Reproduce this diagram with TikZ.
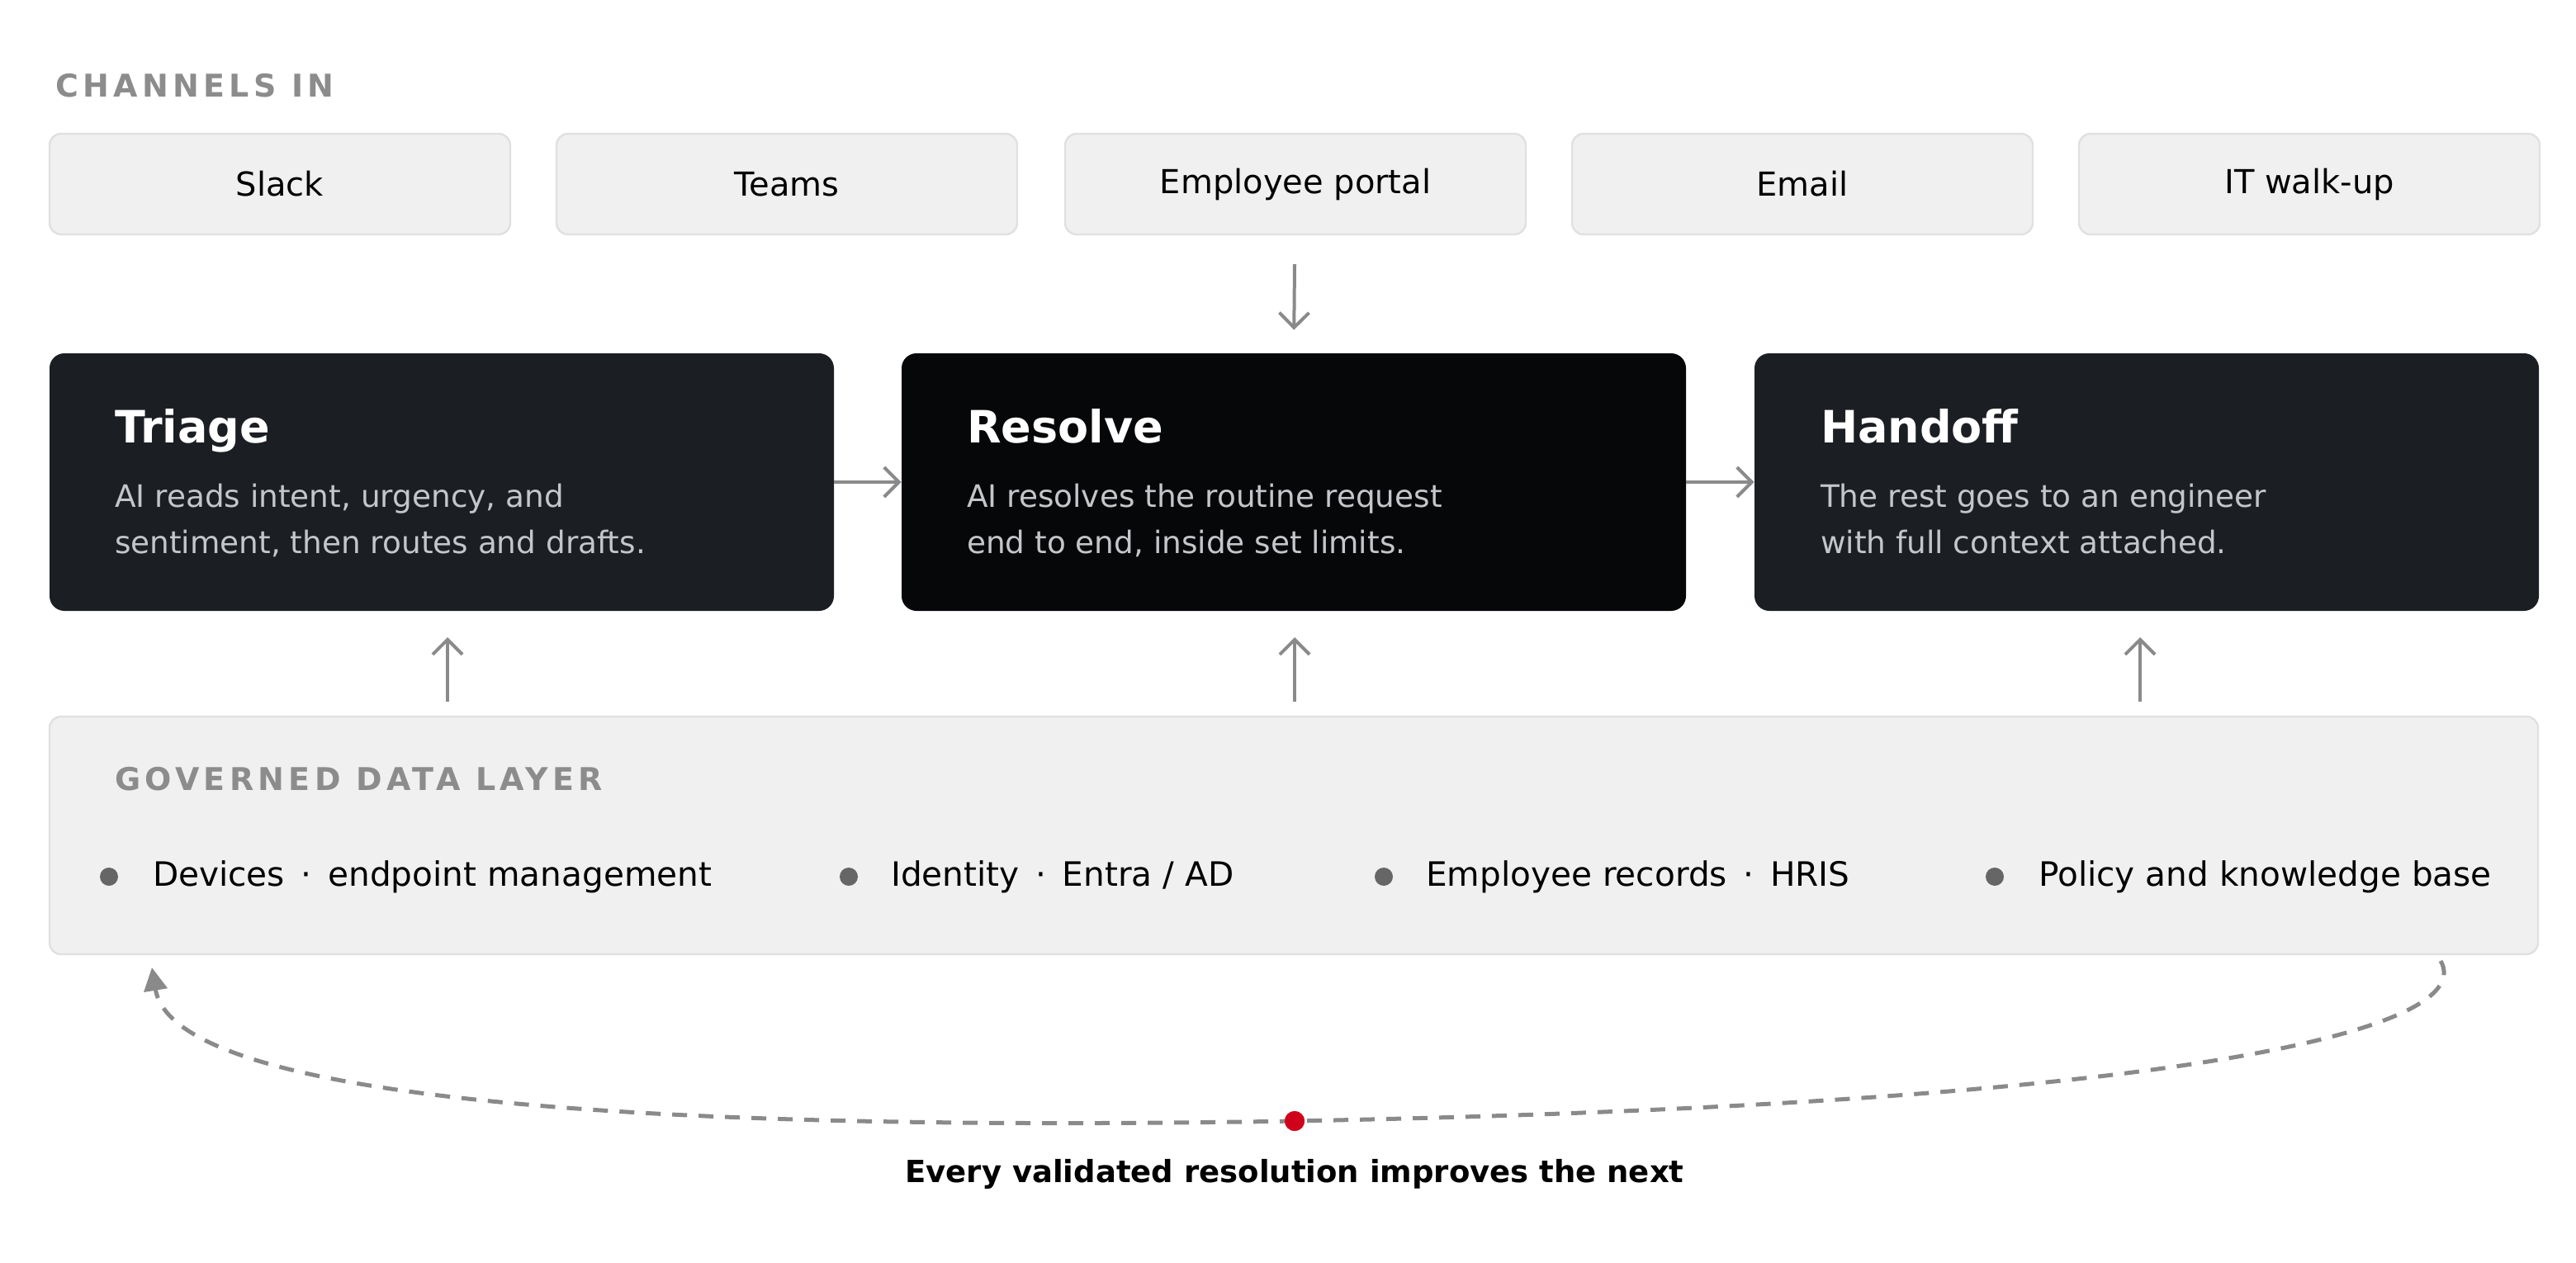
\documentclass[tikz,border=0pt]{standalone}
\usepackage{fontspec}
\setmainfont{DejaVu Sans}
\newfontfamily\capsfont{DejaVu Sans}[LetterSpace=14]
\usepackage{xcolor}
\usepackage{tikz}
\usetikzlibrary{arrows.meta}
\definecolor{chanfill}{HTML}{F0F0F0}
\definecolor{chanline}{HTML}{E0E0E0}
\definecolor{darkbox}{HTML}{1B1E23}
\definecolor{blackbox}{HTML}{050709}
\definecolor{subtext}{HTML}{C4C6C9}
\definecolor{arrowgray}{HTML}{8A8A8A}
\definecolor{capsgray}{HTML}{8C8C8C}
\definecolor{dotgray}{HTML}{666666}
\definecolor{loopred}{HTML}{D0021B}
\tikzset{
  chan/.style={draw=chanline, line width=1.2pt, fill=chanfill, rounded corners=7pt, minimum width=279pt, minimum height=61pt, font=\fontsize{20}{24}\selectfont},
  stage/.style={fill=darkbox, rounded corners=9pt, minimum width=475pt, minimum height=156pt},
  flow/.style={draw=arrowgray, line width=2pt, -{Straight Barb[length=9pt,width=18pt]}},
  head/.style={font=\capsfont\bfseries\fontsize{19}{22}\selectfont, text=capsgray, anchor=west},
  ttl/.style={font=\bfseries\fontsize{27}{30}\selectfont, text=white, anchor=base west},
  sub/.style={font=\fontsize{18.7}{28}\selectfont, text=subtext, anchor=base west, align=left},
  item/.style={font=\fontsize{20.3}{24}\selectfont, anchor=west},
  dot/.style={circle, fill=dotgray, inner sep=0pt, minimum size=11pt}
}
\begin{document}
\begin{tikzpicture}[x=1pt,y=-1pt]
            \useasboundingbox (0,0) rectangle (1560,765);
            % channels
            \node (chhead) at (30, 52) [head] {CHANNELS IN};
            \node (slack) at (169.5, 111.5) [chan] {Slack};
            \node (teams) at (476.5, 111.5) [chan] {Teams};
            \node (portal) at (784.5, 111.5) [chan] {Employee portal};
            \node (email) at (1091.5, 111.5) [chan] {Email};
            \node (walkup) at (1398.5, 111.5) [chan] {IT walk-up};
            \coordinate (intop) at (784, 160);
            % stages
            \node (triage) at (267.5, 292) [stage] {};
            \node (resolve) at (783.5, 292) [stage, fill=blackbox] {};
            \node (handoff) at (1300, 292) [stage] {};
            \node at (66, 268) [ttl] {Triage};
            \node at (66, 335) [sub] {AI reads intent, urgency, and\\sentiment, then routes and drafts.};
            \node at (582, 268) [ttl] {Resolve};
            \node at (582, 335) [sub] {AI resolves the routine request\\end to end, inside set limits.};
            \node at (1099, 268) [ttl] {Handoff};
            \node at (1099, 335) [sub] {The rest goes to an engineer\\with full context attached.};
            \draw [flow, shorten >=14pt] (intop) -- (resolve.north);
            \draw [flow] (triage.east) -- (resolve.west);
            \draw [flow] (resolve.east) -- (handoff.west);
            % data layer
            \node (layer) at (783.5, 506) [draw=chanline, line width=1.2pt, fill=chanfill, rounded corners=7pt, minimum width=1507pt, minimum height=144pt] {};
            \node (lyhead) at (66, 472) [head] {GOVERNED DATA LAYER};
            \draw [flow, shorten >=16pt] (271, 425) -- (271, 370);
            \draw [flow, shorten >=16pt] (784, 425) -- (784, 370);
            \draw [flow, shorten >=16pt] (1296, 425) -- (1296, 370);
            \node (d1) at (66, 531) [dot] {};
            \node at (89, 531) [item] {Devices \,·\, endpoint management};
            \node (d2) at (514, 531) [dot] {};
            \node at (536, 531) [item] {Identity \,·\, Entra / AD};
            \node (d3) at (838, 531) [dot] {};
            \node at (860, 531) [item] {Employee records \,·\, HRIS};
            \node (d4) at (1208, 531) [dot] {};
            \node at (1231, 531) [item] {Policy and knowledge base};
            % feedback loop
            \coordinate (loopstart) at (1478, 582);
            \coordinate (loopend) at (92, 586);
            \node (redpt) at (784, 679) [circle, fill=loopred, inner sep=0pt, minimum size=12pt] {};
            \draw [draw=arrowgray, line width=2.5pt, dash pattern=on 9pt off 7pt] (loopstart) .. controls (1500, 620) and (1350, 668) .. (redpt.center);
            \draw [draw=arrowgray, line width=2.5pt, dash pattern=on 9pt off 7pt, -{Triangle[length=14pt,width=14pt]}] (redpt.center) .. controls (380, 686) and (105, 665) .. (loopend);
            \node (redpt2) at (784, 679) [circle, fill=loopred, inner sep=0pt, minimum size=12pt] {};
            \node (caption) at (784, 711) [font=\bfseries\fontsize{18.5}{22}\selectfont] {Every validated resolution improves the next};
        \end{tikzpicture}
\end{document}
